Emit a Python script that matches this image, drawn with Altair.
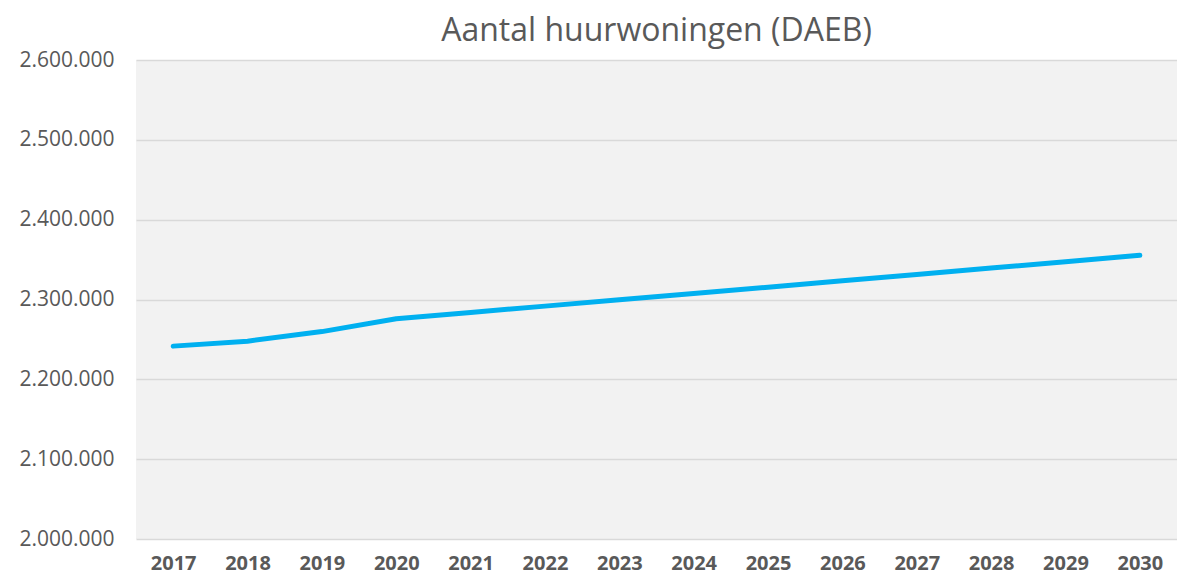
import altair as alt
import pandas as pd

years = [str(y) for y in range(2017, 2031)]
values = [2241600, 2247800, 2259800, 2275900, 2283800, 2291700, 2299600,
          2307500, 2315400, 2323400, 2331400, 2339400, 2347400, 2355400]

df = pd.DataFrame({"jaar": years, "aantal": values})

font = "Open Sans"
grey = "#595959"

chart = alt.Chart(df).mark_line(
    color="#00b0f0", strokeWidth=5, strokeCap="round", strokeJoin="round"
).encode(
    x=alt.X("jaar:O", sort=years, title=None,
            scale=alt.Scale(type="point", padding=0.5),
            axis=alt.Axis(labelAngle=0, labelFont=font, labelFontSize=20,
                          labelFontWeight="bold", labelColor=grey, ticks=False,
                          domain=False, grid=False, labelPadding=14)),
    y=alt.Y("aantal:Q", title=None,
            scale=alt.Scale(domain=[2000000, 2600000], nice=False, zero=False),
            axis=alt.Axis(values=[2000000, 2100000, 2200000, 2300000, 2400000, 2500000, 2600000],
                          labelExpr="join(split(format(datum.value, ','), ','), '.')",
                          labelFont=font, labelFontSize=21, labelColor=grey,
                          ticks=False, domain=False, grid=True, gridColor="#d9d9d9",
                          gridWidth=1.5, labelPadding=22)),
).properties(
    width=1041,
    height=479,
    background="white",
    title=alt.Title("Aantal huurwoningen (DAEB)", font=font, fontSize=32,
                    fontWeight="normal", color=grey, anchor="middle", offset=1),
    autosize=alt.AutoSizeParams(type="none"),
    padding={"left": 128, "top": 52, "right": 0, "bottom": 36},
).configure_view(
    fill="#f2f2f2", stroke=None
)

chart.save("out.html", embed_options={"renderer": "svg", "actions": False})
